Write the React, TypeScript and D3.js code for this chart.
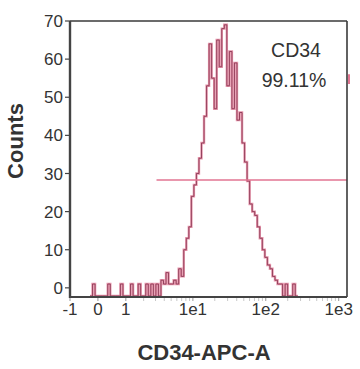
import * as d3 from "d3";
import { useEffect, useRef } from "react";

// x ticks (CD34-APC-A, logicle-like display)
const xTickValues = [-1, 0, 1, 10, 100, 1000];
const xTickLabels = ["-1", "0", "1", "1e1", "1e2", "1e3"];
const yTickValues = [0, 10, 20, 30, 40, 50, 60, 70];

// histogram bins, in display (asinh) units
const binStart = -0.25;
const binWidth = 0.08;
const counts = [
  0, 1, 0, 0, 0, 0, 0, 1, 0, 0, 0, 0, 1, 0, 0, 0, 1, 0, 0, 1,
  0, 0, 1, 0, 1, 0, 1, 0, 2, 1, 4, 1, 1, 2, 1, 5, 3, 10, 13, 16,
  24, 27, 30, 34, 38, 45, 53, 64, 55, 47, 65, 58, 68, 69, 53, 62, 47, 59, 44, 46,
  38, 33, 28, 22, 20, 19, 16, 13, 10, 8, 6, 5, 3, 2, 1, 1, 0, 1, 0, 0,
  1, 0,
];

// gate
const gateLabel = "CD34";
const gatePercent = "99.11%";
const gateLevel = 28.3;
const gateFrom = 3.1;

export default function App() {
  const svgRef = useRef<SVGSVGElement | null>(null);
  const width = 360;
  const height = 369;

  useEffect(() => {
    if (!svgRef.current) return;
    const margin = { top: 21, right: 13, bottom: 72, left: 70 };
    const innerW = width - margin.left - margin.right;
    const innerH = height - margin.top - margin.bottom;

    const svg = d3.select(svgRef.current);
    svg.selectAll("*").remove();

    const xT = d3
      .scaleLinear()
      .domain([Math.asinh(-1), Math.asinh(1300)])
      .range([0, innerW]);
    const x = (v: number) => xT(Math.asinh(v));
    const y = d3.scaleLinear().domain([-2.4, 70]).range([innerH, 0]);

    const g = svg
      .append("g")
      .attr("transform", `translate(${margin.left},${margin.top})`);

    // histogram
    const pts = counts.map((c, i) => ({ t: binStart + i * binWidth, c }));
    pts.push({ t: binStart + counts.length * binWidth, c: 0 });
    const line = d3
      .line<{ t: number; c: number }>()
      .x((d) => xT(d.t))
      .y((d) => (d.c > 0 ? y(d.c) : innerH - 1))
      .curve(d3.curveStepAfter);

    g.append("path")
      .datum(pts)
      .attr("fill", "none")
      .attr("stroke", "#e07a96")
      .attr("stroke-width", 2.4)
      .attr("opacity", 0.8)
      .attr("d", line);
    g.append("path")
      .datum(pts)
      .attr("fill", "none")
      .attr("stroke", "#8c3a55")
      .attr("stroke-width", 0.9)
      .attr("d", line);

    // gate line
    g.append("line")
      .attr("x1", x(gateFrom))
      .attr("x2", innerW)
      .attr("y1", y(gateLevel))
      .attr("y2", y(gateLevel))
      .attr("stroke", "#e27592")
      .attr("stroke-width", 1.6);
    g.append("line")
      .attr("x1", innerW + 2)
      .attr("x2", innerW + 2)
      .attr("y1", y(56))
      .attr("y2", y(53.5))
      .attr("stroke", "#e27592")
      .attr("stroke-width", 2);

    // frame
    g.append("line")
      .attr("x1", 0).attr("x2", innerW).attr("y1", 0).attr("y2", 0)
      .attr("stroke", "#3a3a3a").attr("stroke-width", 1.6);
    g.append("line")
      .attr("x1", innerW).attr("x2", innerW).attr("y1", 0).attr("y2", innerH)
      .attr("stroke", "#3a3a3a").attr("stroke-width", 1.6);
    g.append("line")
      .attr("x1", 0).attr("x2", 0).attr("y1", 0).attr("y2", innerH + 1)
      .attr("stroke", "#444").attr("stroke-width", 2.4);
    g.append("line")
      .attr("x1", 0).attr("x2", innerW).attr("y1", innerH).attr("y2", innerH)
      .attr("stroke", "#444").attr("stroke-width", 2.2);

    // y axis ticks
    const yAxis = g.append("g");
    yTickValues.forEach((v) => {
      yAxis.append("line")
        .attr("x1", -5).attr("x2", 0).attr("y1", y(v)).attr("y2", y(v))
        .attr("stroke", "#444").attr("stroke-width", 1.2);
      yAxis.append("text")
        .attr("x", -7)
        .attr("y", y(v))
        .attr("dy", "0.36em")
        .attr("text-anchor", "end")
        .attr("font-size", 17)
        .attr("fill", "#333")
        .text(String(v));
    });

    // x minor ticks
    const minor: number[] = [];
    [1, 10, 100].forEach((d) => {
      for (let k = 2; k <= 9; k++) minor.push(k * d);
    });
    g.selectAll(".minor")
      .data(minor)
      .enter()
      .append("line")
      .attr("x1", (d) => x(d)).attr("x2", (d) => x(d))
      .attr("y1", innerH + 1).attr("y2", innerH + 4)
      .attr("stroke", "#c8c8c8").attr("stroke-width", 1);

    // x axis ticks
    xTickValues.forEach((v, i) => {
      g.append("line")
        .attr("x1", x(v)).attr("x2", x(v))
        .attr("y1", innerH + 1).attr("y2", innerH + 4)
        .attr("stroke", "#999").attr("stroke-width", 1);
      g.append("text")
        .attr("x", x(v))
        .attr("y", innerH + 18)
        .attr("text-anchor", "middle")
        .attr("font-size", 17)
        .attr("fill", "#333")
        .text(xTickLabels[i]);
    });

    // gate annotation
    g.append("text")
      .attr("x", 226).attr("y", 36)
      .attr("text-anchor", "middle")
      .attr("font-size", 19.5).attr("fill", "#333")
      .text(gateLabel);
    g.append("text")
      .attr("x", 224).attr("y", 66)
      .attr("text-anchor", "middle")
      .attr("font-size", 19.5).attr("fill", "#333")
      .text(gatePercent);

    // axis titles
    svg.append("text")
      .attr("transform", "translate(23,141) rotate(-90)")
      .attr("text-anchor", "middle")
      .attr("font-size", 22).attr("font-weight", "bold").attr("fill", "#333")
      .text("Counts");
    svg.append("text")
      .attr("x", 204).attr("y", 360)
      .attr("text-anchor", "middle")
      .attr("font-size", 22).attr("font-weight", "bold").attr("fill", "#333")
      .text("CD34-APC-A");
  }, []);

  return (
    <svg
      ref={svgRef}
      width={width}
      height={height}
      style={{
        position: "absolute",
        left: 0,
        top: 0,
        background: "#fff",
        fontFamily: "'Liberation Sans', Arial, sans-serif",
      }}
    />
  );
}
